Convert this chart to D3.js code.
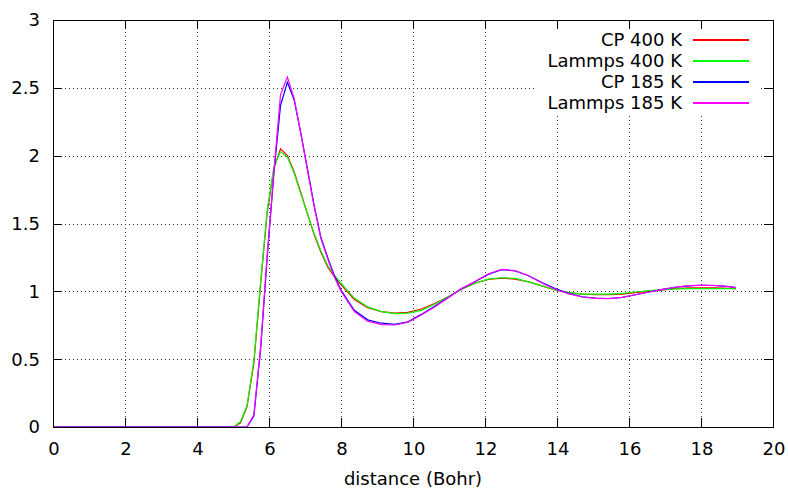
<!DOCTYPE html>
<html lang="en">

<head>
    <meta charset="UTF-8">
    <title>g(r)</title>
    <script src="https://d3js.org/d3.v7.min.js"></script>
    <style>
        body { margin: 0; background: #ffffff; }
        svg { display: block; font-family: "DejaVu Sans", sans-serif; }
    </style>
</head>

<body>
    <div id="chart"></div>
    <script>

        // distances (Bohr), shared by all four curves
        const distance = [0, 4.84, 5.02, 5.21, 5.39, 5.58, 5.77, 5.95, 6.14, 6.32, 6.51, 6.70, 6.88, 7.07, 7.25, 7.44, 7.63, 7.81, 8.00,
            8.37, 8.74, 9.12, 9.49, 9.86, 10.23, 10.60, 10.98, 11.35, 11.72, 12.09, 12.46, 12.84, 13.21, 13.58, 13.95,
            14.32, 14.70, 15.07, 15.44, 15.81, 16.18, 16.56, 16.93, 17.30, 17.67, 18.04, 18.42, 18.79, 18.97];

        const cp400 = [0, 0, 0, 0.03, 0.15, 0.47, 1.06, 1.58, 1.91, 2.05, 2.00, 1.88, 1.73, 1.57, 1.42, 1.29, 1.18, 1.11, 1.05,
            0.94, 0.88, 0.85, 0.84, 0.845, 0.87, 0.91, 0.96, 1.015, 1.06, 1.088, 1.098, 1.09, 1.07, 1.04, 1.01,
            0.99, 0.98, 0.975, 0.975, 0.98, 0.99, 1.00, 1.01, 1.02, 1.025, 1.025, 1.025, 1.022, 1.02];

        const lammps400 = [0, 0, 0, 0.04, 0.16, 0.49, 1.08, 1.60, 1.92, 2.03, 1.99, 1.87, 1.72, 1.57, 1.43, 1.30, 1.19, 1.12, 1.06,
            0.95, 0.885, 0.85, 0.835, 0.84, 0.86, 0.905, 0.96, 1.015, 1.06, 1.09, 1.10, 1.095, 1.07, 1.04, 1.01,
            0.99, 0.98, 0.98, 0.98, 0.985, 0.995, 1.005, 1.012, 1.018, 1.02, 1.02, 1.02, 1.02, 1.02];

        const cp185 = [0, 0, 0, 0, 0, 0.08, 0.58, 1.25, 1.88, 2.37, 2.54, 2.41, 2.17, 1.90, 1.64, 1.40, 1.25, 1.12, 1.01,
            0.86, 0.79, 0.765, 0.757, 0.775, 0.83, 0.89, 0.955, 1.02, 1.07, 1.125, 1.16, 1.15, 1.115, 1.065, 1.02,
            0.985, 0.96, 0.95, 0.947, 0.955, 0.975, 0.995, 1.015, 1.03, 1.04, 1.045, 1.042, 1.035, 1.027];

        const lammps185 = [0, 0, 0, 0, 0, 0.09, 0.60, 1.27, 1.90, 2.45, 2.58, 2.42, 2.17, 1.89, 1.63, 1.39, 1.24, 1.11, 1.00,
            0.85, 0.78, 0.755, 0.752, 0.772, 0.825, 0.885, 0.952, 1.02, 1.072, 1.128, 1.162, 1.152, 1.115, 1.062, 1.015,
            0.982, 0.958, 0.948, 0.946, 0.955, 0.975, 0.995, 1.015, 1.032, 1.042, 1.046, 1.043, 1.035, 1.027];

        const seriesNames = ["CP 400 K", "Lammps 400 K", "CP 185 K", "Lammps 185 K"];
        const seriesColors = ["#ff0000", "#00ff00", "#0000ff", "#ff00ff"];
        const seriesValues = [cp400, lammps400, cp185, lammps185];

        const xTicks = [0, 2, 4, 6, 8, 10, 12, 14, 16, 18, 20];
        const yTicks = [0, 0.5, 1, 1.5, 2, 2.5, 3];

        const margin = { top: 20, right: 15, bottom: 62, left: 53 };
        const totalWidth = 788, totalHeight = 489;
        const width = totalWidth - margin.left - margin.right;
        const height = totalHeight - margin.top - margin.bottom;

        const svg = d3.select("#chart")
            .append("svg")
            .attr("width", totalWidth)
            .attr("height", totalHeight)
            .append("g")
            .attr("transform", `translate(${margin.left}, ${margin.top})`);

        const x = d3.scaleLinear().domain([0, 20]).range([0, width]);
        const y = d3.scaleLinear().domain([0, 3]).range([height, 0]);

        const tickLen = 9;

        // dotted grid (inner ticks only)
        svg.selectAll(".vgrid")
            .data(xTicks.slice(1, -1))
            .join("line")
            .attr("x1", d => x(d) + 0.5).attr("x2", d => x(d) + 0.5)
            .attr("y1", 0).attr("y2", height)
            .attr("stroke", "#333")
            .attr("stroke-width", 1)
            .attr("stroke-dasharray", "1,3");

        svg.selectAll(".hgrid")
            .data(yTicks.slice(1, -1))
            .join("line")
            .attr("x1", 0).attr("x2", width)
            .attr("y1", d => Math.round(y(d)) + 0.5).attr("y2", d => Math.round(y(d)) + 0.5)
            .attr("stroke", "#333")
            .attr("stroke-width", 1)
            .attr("stroke-dasharray", "1,3");

        // legend background hides the grid
        svg.append("rect")
            .attr("x", 537 - margin.left)
            .attr("y", 28 - margin.top)
            .attr("width", 223)
            .attr("height", 86)
            .attr("fill", "white");

        // curves
        const line = d3.line()
            .x((d, i) => x(distance[i]))
            .y(d => y(d));

        seriesValues.forEach((vals, k) => {
            svg.append("path")
                .datum(vals)
                .attr("fill", "none")
                .attr("stroke", seriesColors[k])
                .attr("stroke-width", 1.2)
                .attr("d", line);
        });

        // ticks on all four sides
        xTicks.forEach(t => {
            svg.append("line")
                .attr("x1", x(t) + 0.5).attr("x2", x(t) + 0.5)
                .attr("y1", height).attr("y2", height - tickLen)
                .attr("stroke", "black");
            svg.append("line")
                .attr("x1", x(t) + 0.5).attr("x2", x(t) + 0.5)
                .attr("y1", 0).attr("y2", tickLen)
                .attr("stroke", "black");
            svg.append("text")
                .attr("x", x(t) + 1)
                .attr("y", height + 28)
                .attr("text-anchor", "middle")
                .attr("font-size", "18px")
                .attr("fill", "black")
                .text(t);
        });

        yTicks.forEach(t => {
            const yy = Math.round(y(t)) + 0.5;
            svg.append("line")
                .attr("x1", 0).attr("x2", tickLen)
                .attr("y1", yy).attr("y2", yy)
                .attr("stroke", "black");
            svg.append("line")
                .attr("x1", width).attr("x2", width - tickLen)
                .attr("y1", yy).attr("y2", yy)
                .attr("stroke", "black");
            svg.append("text")
                .attr("x", -13)
                .attr("y", y(t))
                .attr("dy", "0.36em")
                .attr("text-anchor", "end")
                .attr("font-size", "18px")
                .attr("fill", "black")
                .text(t);
        });

        // border
        svg.append("rect")
            .attr("x", 0.5).attr("y", 0.5)
            .attr("width", width).attr("height", height)
            .attr("fill", "none")
            .attr("stroke", "black")
            .attr("stroke-width", 1);

        // x axis title
        svg.append("text")
            .attr("x", 413 - margin.left)
            .attr("y", 485 - margin.top)
            .attr("text-anchor", "middle")
            .attr("font-size", "18px")
            .attr("fill", "black")
            .text("distance (Bohr)");

        // legend
        seriesNames.forEach((name, k) => {
            const cy = 40 + k * 21 - margin.top;
            svg.append("text")
                .attr("x", 682 - margin.left)
                .attr("y", cy)
                .attr("dy", "0.36em")
                .attr("text-anchor", "end")
                .attr("font-size", "18px")
                .attr("fill", "black")
                .text(name);
            // sample line drawn as a thin filled bar so the colour survives
            svg.append("rect")
                .attr("x", 693 - margin.left)
                .attr("y", cy - 1)
                .attr("width", 56)
                .attr("height", 2)
                .attr("fill", seriesColors[k]);
        });

    </script>

</body>

</html>
